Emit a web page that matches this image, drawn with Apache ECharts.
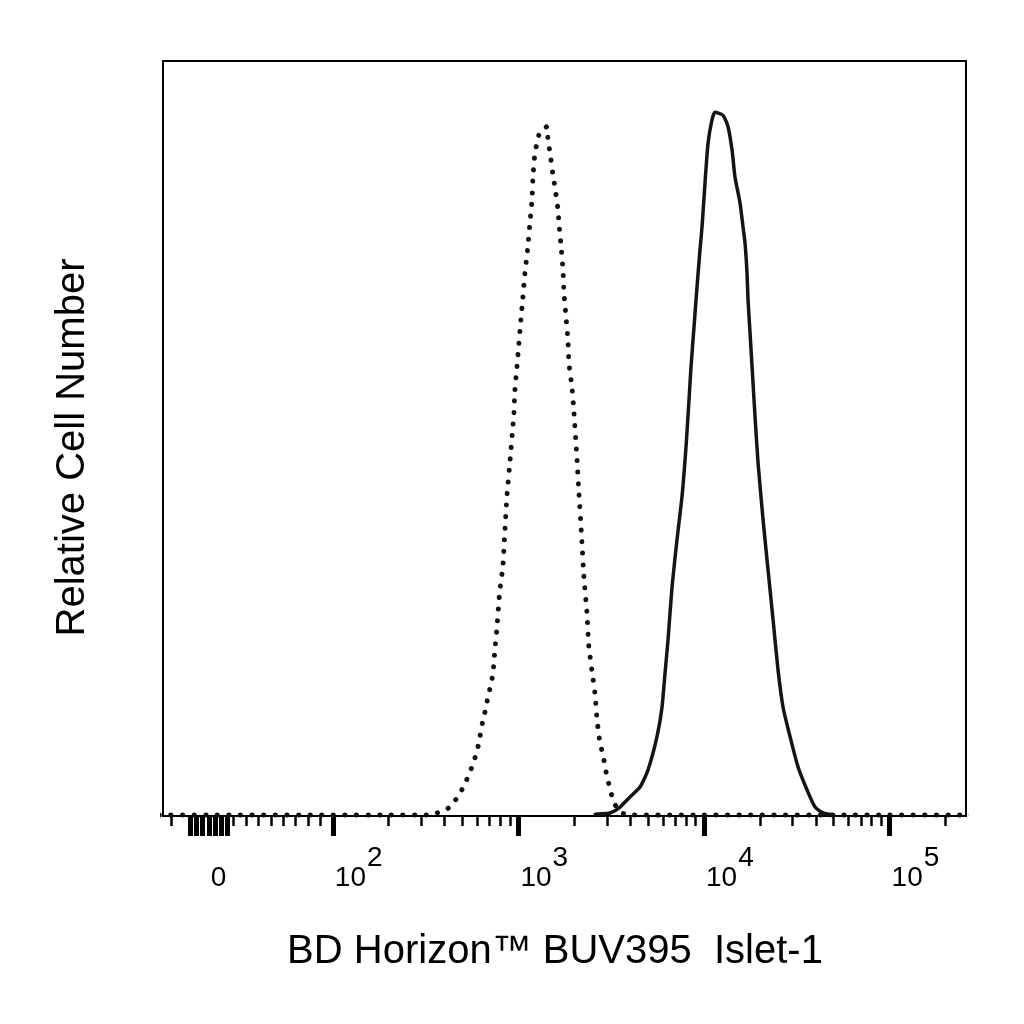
<!DOCTYPE html>
<html>
<head>
<meta charset="utf-8">
<title>Islet-1 BUV395</title>
<script src="https://cdn.jsdelivr.net/npm/echarts@6/dist/echarts.min.js"></script>
<style>
  html, body { margin: 0; padding: 0; background: #fff; }
  #main { width: 1024px; height: 1024px; }
</style>
</head>
<body>
<div id="main"></div>
<script>
// isotype control (dotted) - fluorescence intensity / relative count
var isoX = [-40, 0, 100, 200, 325, 378, 428, 466, 502, 534, 561, 590, 612, 644, 668, 685, 711, 729, 738, 747,
  766, 794, 824, 845, 867, 900, 946, 957, 982, 1006, 1031, 1057, 1084, 1124, 1153, 1183, 1197, 1227, 1259, 1306,
  1425, 1442, 1479, 1535, 1573, 1633, 1653, 1695, 1738, 1759, 1804, 1849, 1871, 1943, 1991, 2066, 2118, 2198, 2253, 2338,
  2397, 2488, 2582, 2647, 2747, 2855, 3000, 3112, 3229, 3396, 3613, 3990, 10000, 100000, 300000];
var isoY = [0.13, 0.13, 0.13, 0.13, 0.13, 0.53, 1.19, 2.38, 3.71, 5.17, 6.49, 8.08, 9.67, 12.7, 14.3, 15.8, 17.4, 18.9, 20.4, 22.0,
  25.0, 29.9, 33.0, 37.6, 42.3, 46.9, 53.4, 56.4, 59.5, 62.6, 65.7, 68.7, 71.9, 75.4, 78.5, 81.6, 84.5, 87.8, 89.1, 90.6,
  91.3, 89.5, 87.9, 84.9, 83.3, 80.3, 78.5, 75.6, 72.3, 69.3, 66.1, 63.0, 60.0, 56.8, 53.5, 47.4, 42.8, 36.3, 31.7, 27.0,
  22.4, 19.3, 16.3, 13.0, 9.80, 8.08, 5.17, 3.71, 2.12, 1.06, 0.40, 0.13, 0.13, 0.13, 0.13];

// Islet-1 stained (solid)
var stainX = [2550, 2650, 3114, 3526, 3992, 4519, 4991, 5580, 5938, 6163, 6397, 6723, 7152, 7609, 7998, 8300, 8510, 8833, 9169, 9515,
  9754, 10120, 10510, 11040, 11460, 12660, 13470, 14160, 14690, 15630, 16230, 16630, 17050, 17270, 17700, 18150, 18840, 19550, 20810, 22130,
  23550, 25060, 26660, 29080, 32120, 35920, 39660, 43810, 50840];
var stainY = [0.13, 0.26, 0.40, 1.19, 2.52, 3.84, 6.09, 10.5, 14.4, 18.9, 23.3, 30.3, 36.6, 42.3, 48.9, 55.1, 59.5, 64.8, 70.1, 75.0,
  78.0, 83.8, 89.1, 92.2, 93.2, 92.8, 91.3, 88.2, 84.6, 81.2, 78.0, 75.9, 71.9, 68.3, 64.0, 59.5, 52.8, 46.8, 39.2, 32.6,
  26.0, 19.3, 14.4, 10.5, 6.49, 3.44, 1.19, 0.40, 0.13];

// axis ticks (in fluorescence units)
var majorTicks = [-15, -10, -5, 0, 5, 10, 15, 100, 1000, 10000, 100000];
var minorTicks = [-30, 20, 30, 40, 50, 60, 70, 80, 90,
  200, 300, 400, 500, 600, 700, 800, 900,
  2000, 3000, 4000, 5000, 6000, 7000, 8000, 9000,
  20000, 30000, 40000, 50000, 60000, 70000, 80000, 90000,
  200000];
var labelTicks = [0, 100, 1000, 10000, 100000];
var labelText = ['{b|0}{s| }', '{b|10}{s|2}', '{b|10}{s|3}', '{b|10}{s|4}', '{b|10}{s|5}'];

var xMinVal = -37;
var xMaxVal = 258000;

// biexponential-like display: linear below 100, log10 above
var LIN = 0.668;
function toAxis(v) {
  return v >= 100 ? Math.log10(v) : 2 - (1 - v / 100) * LIN;
}

var FONT = '"Liberation Sans", Arial, Helvetica, sans-serif';

var myChart = echarts.init(document.getElementById('main'));

var option = {
  backgroundColor: '#fff',
  animation: false,
  grid: {
    left: 163, right: 58, top: 61, bottom: 208,
    show: true, borderColor: '#000', borderWidth: 2
  },
  xAxis: [{
    type: 'value',
    min: toAxis(xMinVal),
    max: toAxis(xMaxVal),
    splitLine: { show: false },
    axisLine: { show: true, onZero: false, lineStyle: { color: '#000', width: 2 } },
    axisTick: {
      show: true, length: 10,
      customValues: minorTicks.map(toAxis),
      lineStyle: { color: '#000', width: 2.5 }
    },
    axisLabel: { show: false }
  }, {
    type: 'value',
    min: toAxis(xMinVal),
    max: toAxis(xMaxVal),
    position: 'bottom',
    splitLine: { show: false },
    axisLine: { show: false },
    axisTick: {
      show: true, length: 20,
      customValues: majorTicks.map(toAxis),
      lineStyle: { color: '#000', width: 5 }
    },
    axisLabel: {
      show: true,
      margin: 28,
      align: 'left',
      customValues: labelTicks.map(toAxis),
      formatter: function (val) {
        for (var i = 0; i < labelTicks.length; i++) {
          if (Math.abs(toAxis(labelTicks[i]) - val) < 1e-6) return labelText[i];
        }
        return '';
      },
      rich: {
        b: { fontSize: 28, fontFamily: FONT, color: '#000', verticalAlign: 'bottom', padding: [0, 0, 0, 2] },
        s: { fontSize: 28, fontFamily: FONT, color: '#000', verticalAlign: 'top', padding: [0, 0, 20, 1] }
      }
    },
    name: 'BD Horizon™ BUV395  Islet-1',
    nameLocation: 'middle',
    nameGap: 116,
    nameTextStyle: { fontSize: 40, fontFamily: FONT, color: '#000', padding: [0, 19, 0, 0] }
  }],
  yAxis: {
    type: 'value',
    min: 0,
    max: 100,
    splitLine: { show: false },
    axisLine: { show: false },
    axisTick: { show: false },
    axisLabel: { show: false },
    name: 'Relative Cell Number',
    nameLocation: 'middle',
    nameRotate: 90,
    nameGap: 70,
    nameTextStyle: { fontSize: 40, fontFamily: FONT, color: '#000', padding: [0, 18, 0, 0] }
  },
  series: [{
    name: 'Isotype control',
    type: 'line',
    xAxisIndex: 0,
    showSymbol: false,
    smooth: 0.2,
    data: isoX.map(function (v, i) { return [toAxis(v), isoY[i]]; }),
    lineStyle: { color: '#111', width: 5, type: [0.1, 11.5], cap: 'round' }
  }, {
    name: 'Islet-1',
    type: 'line',
    xAxisIndex: 0,
    showSymbol: false,
    smooth: 0.2,
    data: stainX.map(function (v, i) { return [toAxis(v), stainY[i]]; }),
    lineStyle: { color: '#151510', width: 3.5 }
  }]
};

myChart.setOption(option);
</script>
</body>
</html>
